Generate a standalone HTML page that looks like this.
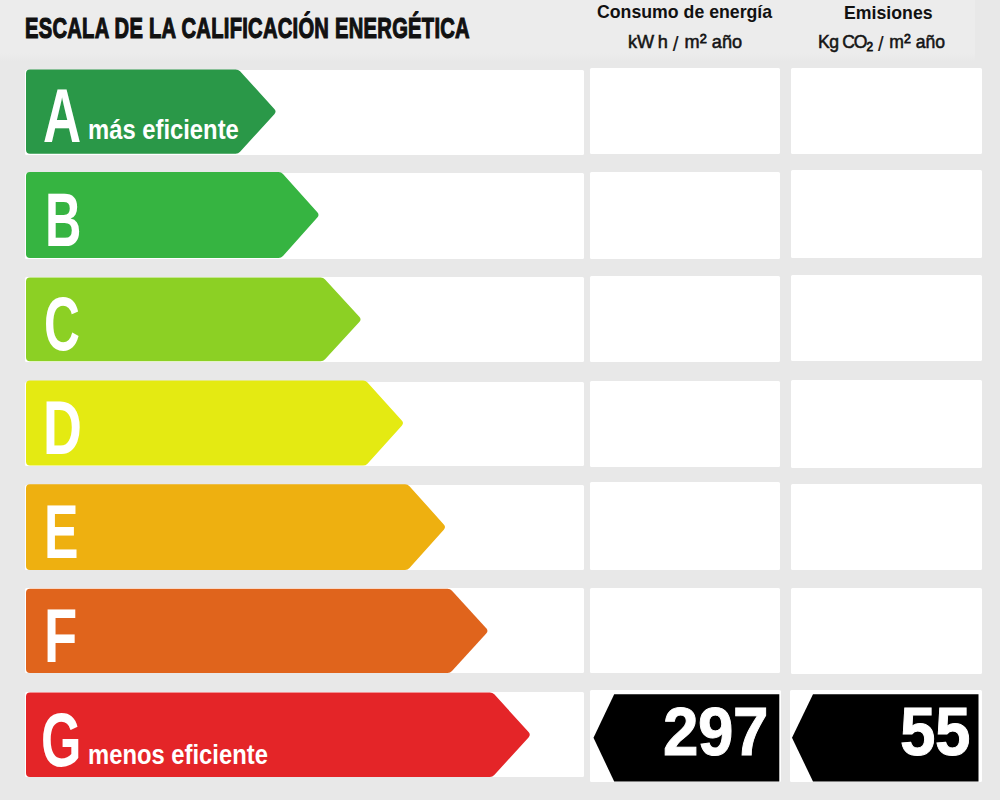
<!DOCTYPE html>
<html><head><meta charset="utf-8"><style>
html,body{margin:0;padding:0;}
body{width:1000px;height:800px;background:#e8e8e8;position:relative;overflow:hidden;font-family:"Liberation Sans",sans-serif;}
.cell{position:absolute;background:#fff;border-radius:1.5px;}
.c1{left:25px;width:558.5px;}
.c2{left:590px;width:190px;}
.c3{left:790.5px;width:191.5px;}
svg{position:absolute;left:0;top:0;}
.letter{position:absolute;left:43px;height:0;line-height:0;color:#fff;font-weight:bold;font-size:76.5px;transform:scaleX(0.69);transform-origin:0 0;}
.title{position:absolute;left:25.3px;top:10.5px;font-weight:bold;font-size:29.5px;color:#111;-webkit-text-stroke:1.2px #111;word-spacing:0px;letter-spacing:0.4px;white-space:nowrap;transform:scaleX(0.683);transform-origin:0 0;}
.h{position:absolute;font-weight:bold;font-size:19px;color:#111;white-space:nowrap;transform:scaleX(0.932);transform-origin:0 0;}
.u{position:absolute;font-weight:normal;font-size:18.5px;color:#151515;-webkit-text-stroke:0.55px #151515;white-space:nowrap;transform:scaleX(0.98);transform-origin:0 0;}
.u .sl{font-weight:normal;font-size:21px;-webkit-text-stroke:0.2px #151515;line-height:0;position:relative;top:3px;margin-right:1px;}
.u sup{font-size:13px;vertical-align:0;position:relative;top:-5px;-webkit-text-stroke:0.8px #151515;}
.u sub{font-size:13px;vertical-align:0;position:relative;top:3.5px;-webkit-text-stroke:0.8px #151515;}
.sub{position:absolute;color:#fff;font-weight:bold;font-size:28px;white-space:nowrap;transform:scaleX(0.85);transform-origin:0 0;}
.num{position:absolute;color:#fff;font-weight:bold;font-size:68.5px;white-space:nowrap;-webkit-text-stroke:1px #fff;letter-spacing:-0.5px;transform:scaleX(0.93);transform-origin:0 0;}
</style></head><body>
<div style="position:absolute;left:0;top:0;width:975px;height:62px;background:linear-gradient(#ececec 85%,#e8e8e8)"></div>
<div class="title">ESCALA DE LA CALIFICACIÓN ENERGÉTICA</div>
<div class="h" style="left:597px;top:1px">Consumo de energía</div>
<div class="u" style="left:628px;top:30.5px"><span style="word-spacing:-1.5px">kW h</span> <span class="sl">/</span> m<sup>2</sup> año</div>
<div class="h" style="left:844px;top:1.5px">Emisiones</div>
<div class="u" style="left:818px;top:30.5px;transform:scaleX(0.95)"><span style="letter-spacing:-0.5px">Kg</span><span style="letter-spacing:-1.2px"> CO</span><sub style="font-size:12.5px">2</sub> <span class="sl">/</span> m<sup>2</sup> año</div>
<div class="cell c1" style="top:70px;height:84.5px"></div><div class="cell c2" style="top:68px;height:86.0px"></div><div class="cell c3" style="top:68px;height:86.0px"></div><div class="cell c1" style="top:173px;height:86px"></div><div class="cell c2" style="top:172px;height:87.1px"></div><div class="cell c3" style="top:169.5px;height:88.5px"></div><div class="cell c1" style="top:277px;height:84.5px"></div><div class="cell c2" style="top:275.6px;height:86.4px"></div><div class="cell c3" style="top:274.9px;height:86.4px"></div><div class="cell c1" style="top:381.5px;height:84.0px"></div><div class="cell c2" style="top:380.6px;height:86.6px"></div><div class="cell c3" style="top:380px;height:88.4px"></div><div class="cell c1" style="top:484.5px;height:85.5px"></div><div class="cell c2" style="top:481.9px;height:88.1px"></div><div class="cell c3" style="top:484px;height:86.0px"></div><div class="cell c1" style="top:587.5px;height:85.5px"></div><div class="cell c2" style="top:587.8px;height:85.2px"></div><div class="cell c3" style="top:587.5px;height:86.0px"></div><div class="cell c1" style="top:692px;height:84.5px"></div>
<div class="cell" style="left:590px;top:689.6px;width:190.6px;height:92.2px"></div>
<div class="cell" style="left:789.6px;top:689.5px;width:192px;height:92.5px"></div>
<svg width="1000" height="800"><path d="M26.00,73.40A4,4 0 0 1 30.00,69.40L235.65,69.40A6,6 0 0 1 240.08,71.35L274.34,108.88A4,4 0 0 1 274.34,114.27L240.08,151.80A6,6 0 0 1 235.65,153.75L30.00,153.75A4,4 0 0 1 26.00,149.75Z" fill="#2a9848"/><path d="M26.00,175.90A4,4 0 0 1 30.00,171.90L278.52,171.90A6,6 0 0 1 282.99,173.90L317.32,212.28A4,4 0 0 1 317.32,217.62L282.99,256.00A6,6 0 0 1 278.52,258.00L30.00,258.00A4,4 0 0 1 26.00,254.00Z" fill="#36b441"/><path d="M26.00,281.50A4,4 0 0 1 30.00,277.50L320.67,277.50A6,6 0 0 1 325.08,279.44L359.31,316.67A4,4 0 0 1 359.31,322.08L325.08,359.31A6,6 0 0 1 320.67,361.25L30.00,361.25A4,4 0 0 1 26.00,357.25Z" fill="#8cd024"/><path d="M26.00,384.60A4,4 0 0 1 30.00,380.60L363.04,380.60A6,6 0 0 1 367.49,382.57L401.77,420.41A4,4 0 0 1 401.77,425.79L367.49,463.63A6,6 0 0 1 363.04,465.60L30.00,465.60A4,4 0 0 1 26.00,461.60Z" fill="#e4ea12"/><path d="M26.00,488.25A4,4 0 0 1 30.00,484.25L405.03,484.25A6,6 0 0 1 409.49,486.24L443.80,524.40A4,4 0 0 1 443.80,529.75L409.49,567.91A6,6 0 0 1 405.03,569.90L30.00,569.90A4,4 0 0 1 26.00,565.90Z" fill="#eeb010"/><path d="M26.00,592.75A4,4 0 0 1 30.00,588.75L447.56,588.75A6,6 0 0 1 451.98,590.70L486.23,628.18A4,4 0 0 1 486.23,633.57L451.98,671.05A6,6 0 0 1 447.56,673.00L30.00,673.00A4,4 0 0 1 26.00,669.00Z" fill="#e0641c"/><path d="M26.00,696.40A4,4 0 0 1 30.00,692.40L489.85,692.40A6,6 0 0 1 494.29,694.36L528.55,732.01A4,4 0 0 1 528.55,737.39L494.29,775.04A6,6 0 0 1 489.85,777.00L30.00,777.00A4,4 0 0 1 26.00,773.00Z" fill="#e42528"/>
<path d="M614.2,694.2 L779.3,694.2 L779.3,781.5 L614.2,781.5 L593.5,737.8 Z" fill="#000"/>
<path d="M813,694.3 L978.5,694.3 L978.5,781.4 L813,781.4 L792,737.8 Z" fill="#000"/>
</svg>
<div class="letter" style="top:116.1px;left:43.0px;transform:scaleX(0.690)">A</div><div class="letter" style="top:219.9px;left:44.5px;transform:scaleX(0.659)">B</div><div class="letter" style="top:324.4px;left:43.5px;transform:scaleX(0.649)">C</div><div class="letter" style="top:427.6px;left:43.0px;transform:scaleX(0.704)">D</div><div class="letter" style="top:531.6px;left:44.2px;transform:scaleX(0.676)">E</div><div class="letter" style="top:636.4px;left:44.0px;transform:scaleX(0.711)">F</div><div class="letter" style="top:740.2px;left:40.5px;transform:scaleX(0.680)">G</div>
<div class="sub" style="left:87.5px;top:113.5px">más eficiente</div>
<div class="sub" style="left:87.5px;top:739px">menos eficiente</div>
<div class="num" style="left:662.5px;top:691.5px">297</div>
<div class="num" style="left:899.5px;top:691.5px">55</div>
</body></html>
